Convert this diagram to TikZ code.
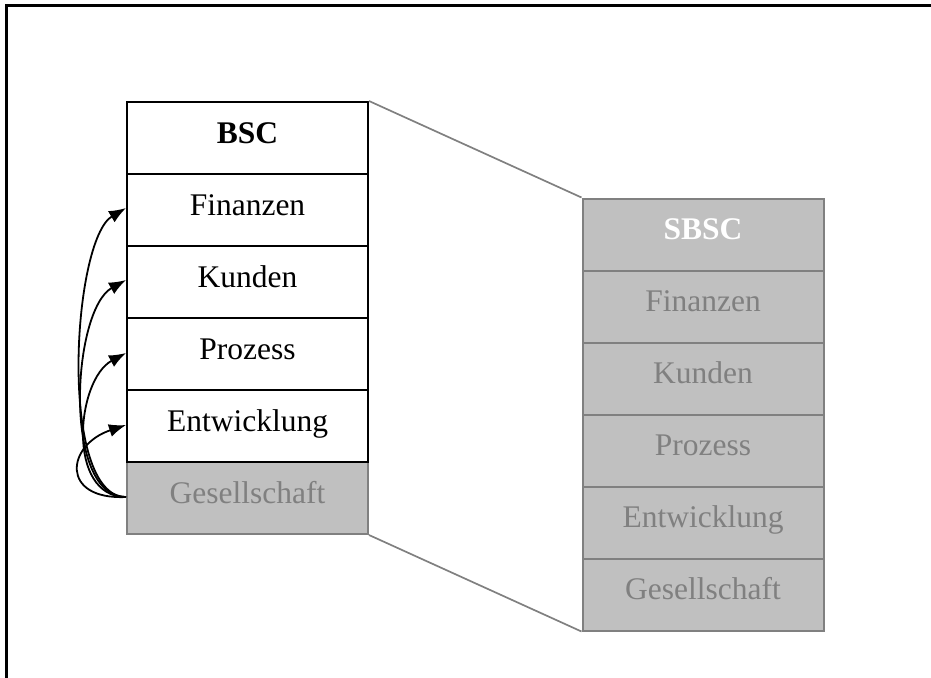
\documentclass[tikz,border=0pt]{standalone}
\usepackage{fontspec}
\setmainfont{Liberation Serif}
\usetikzlibrary{arrows.meta}
\definecolor{boxgray}{HTML}{C0C0C0}
\definecolor{linegray}{HTML}{808080}
\begin{document}
\begin{tikzpicture}[x=1pt,y=-1pt,
  cell/.style={rectangle, minimum width=241pt, minimum height=72pt,
    inner sep=0pt, line width=2pt, text height=19.5pt, text depth=9.5pt,
    font=\fontsize{31.5}{36}\selectfont},
  wcell/.style={cell, draw=black, fill=white, text=black},
  gcell/.style={cell, draw=linegray, fill=boxgray, text=linegray},
  link/.style={-{Latex[length=17pt,width=13pt]}, line width=1.8pt, black},
  zoomline/.style={draw=linegray, line width=1.7pt}]
\useasboundingbox (0,0) rectangle (931,677);
% outer frame, running past the page on the right and bottom
\begin{scope}
  \clip (0,0) rectangle (931,677);
  \draw[line width=2.2pt] (6.5,5.5) rectangle (960,700);
\end{scope}

% balanced scorecard (left)
\node[gcell] (lg) at (247.5,498) {Gesellschaft};
\node[wcell] (bsc) at (247.5,138) {\bfseries BSC};
\node[wcell] (lf) at (247.5,210) {Finanzen};
\node[wcell] (lk) at (247.5,282) {Kunden};
\node[wcell] (lp) at (247.5,354) {Prozess};
\node[wcell] (le) at (247.5,426) {Entwicklung};

% sustainability balanced scorecard (right)
\node[gcell, text=white] (sbsc) at (703,234.5) {\bfseries SBSC};
\node[gcell] (rf) at (703,306.5) {Finanzen};
\node[gcell] (rk) at (703,378.5) {Kunden};
\node[gcell] (rp) at (703,450.5) {Prozess};
\node[gcell] (re) at (703,522.5) {Entwicklung};
\node[gcell] (rg) at (703,594.5) {Gesellschaft};

% zoom lines between the two stacks
\draw[zoomline] (bsc.north east) -- (sbsc.north west);
\draw[zoomline] (lg.south east) -- (rg.south west);

% influence of the society perspective on the others
\coordinate (src) at ([yshift=1pt]lg.west);
\draw[link] (src) .. controls (58,497) and (72,240) .. ([yshift=2pt]lf.west);
\draw[link] (src) .. controls (62,497) and (72,310) .. ([yshift=2pt]lk.west);
\draw[link] (src) .. controls (66,497) and (76,380) .. ([yshift=1pt]lp.west);
\draw[link] (src) .. controls (60,500) and (66,445) .. ([yshift=1pt]le.west);
\end{tikzpicture}
\end{document}
